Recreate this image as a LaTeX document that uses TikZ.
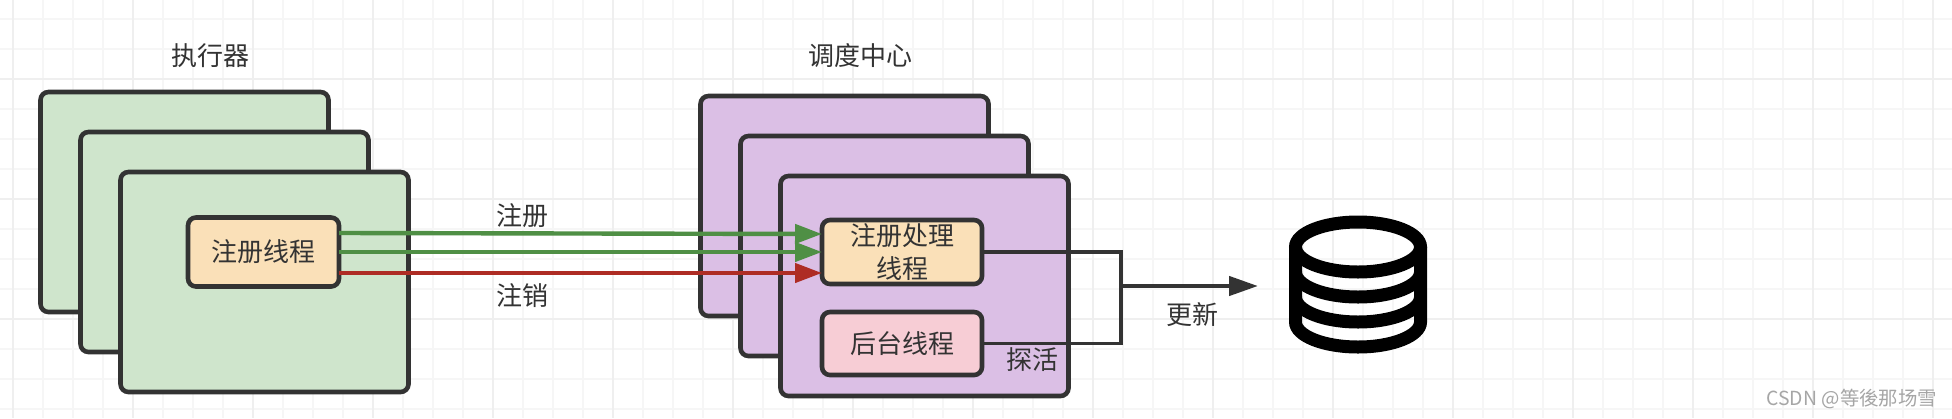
\documentclass[tikz,border=0pt]{standalone}
\usepackage{fontspec}
\setmainfont{Noto Sans CJK SC}
\usepackage{xcolor}
\usetikzlibrary{arrows.meta}
\definecolor{inkgray}{HTML}{333333}
\definecolor{gridmajor}{HTML}{EFEFEF}
\definecolor{gridminor}{HTML}{F6F6F6}
\definecolor{execgreen}{HTML}{CFE5CC}
\definecolor{schedpurple}{HTML}{DBBFE5}
\definecolor{threadorange}{HTML}{FAE0B8}
\definecolor{threadpink}{HTML}{F7CDD5}
\definecolor{reglinegreen}{HTML}{4F8F45}
\definecolor{unreglinered}{HTML}{AE2C24}
\tikzset{
    every node/.style={text=inkgray, font=\fontsize{13pt}{16.5pt}\selectfont, outer sep=0pt, inner sep=0pt},
    panel/.style={draw=inkgray, line width=2.3pt, rounded corners=4pt, minimum height=110pt, anchor=north west},
    threadbox/.style={draw=inkgray, line width=2.3pt, rounded corners=4pt, minimum width=80pt, align=center},
    regline/.style={draw=reglinegreen, line width=2.2pt, -{Triangle[length=13.5pt, width=9.5pt]}},
    unregline/.style={draw=unreglinered, line width=2.2pt, -{Triangle[length=13.5pt, width=9.5pt]}},
    joinline/.style={draw=inkgray, line width=1.8pt},
    dbline/.style={draw=black, line width=6.5pt}
}

\begin{document}
\begin{tikzpicture}[x=0.5pt, y=-0.5pt]
        \useasboundingbox[fill=white] (0, 0) rectangle (1952, 418);

        % Grid
        \foreach \gx in {13, 43, ..., 1933} {
            \draw[gridminor, line width=0.8pt] (\gx, 0) -- (\gx, 418);
        }
        \foreach \gy in {19, 49, ..., 409} {
            \draw[gridminor, line width=0.8pt] (0, \gy) -- (1952, \gy);
        }
        \foreach \gx in {13, 133, ..., 1933} {
            \draw[gridmajor, line width=1pt] (\gx, 0) -- (\gx, 418);
        }
        \foreach \gy in {79, 199, 319} {
            \draw[gridmajor, line width=1pt] (0, \gy) -- (1952, \gy);
        }

        % Nodes
        \node (execlabel) at (210, 56) {执行器};
        \node[panel, fill=execgreen, minimum width=144pt] (exec1) at (40.5, 92) {};
        \node[panel, fill=execgreen, minimum width=144pt] (exec2) at (80.5, 132) {};
        \node[panel, fill=execgreen, minimum width=144pt] (exec3) at (120.5, 172) {};
        \node[threadbox, fill=threadorange, minimum width=75.5pt, minimum height=34.5pt] (regthread) at (263.5, 252) {注册线程};

        \node (schedlabel) at (860, 56) {调度中心};
        \node[panel, fill=schedpurple, minimum width=144pt] (sched1) at (700.5, 96) {};
        \node[panel, fill=schedpurple, minimum width=144pt] (sched2) at (740.5, 136) {};
        \node[panel, fill=schedpurple, minimum width=144pt] (sched3) at (780.5, 176) {};
        \node[threadbox, fill=threadorange, minimum height=32pt] (handler) at (902, 252) {注册处理\\线程};
        \node[threadbox, fill=threadpink, minimum height=31.5pt] (bgthread) at (902, 343.5) {后台线程};

        \coordinate (join) at (1121, 286);
        \coordinate (dbin) at (1258, 286);

        % Edges
        \draw[regline] ([yshift=9.5pt]regthread.east) -- ([yshift=9pt]handler.west);
        \draw[regline] (regthread.east) -- (handler.west);
        \draw[unregline] ([yshift=-10.5pt]regthread.east) -- ([yshift=-10.5pt]handler.west);
        \draw[joinline] (handler.east) -| (join);
        \draw[joinline] (bgthread.east) -| (join);
        \draw[joinline, line width=2.2pt, -{Triangle[length=14.5pt, width=9.5pt]}] (join) -- (dbin);

        % Edge labels
        \node (reglabel) at (522, 216) {注册};
        \node (unreglabel) at (522, 296) {注销};
        \node (probelabel) at (1032, 360) {探活};
        \node (updatelabel) at (1192, 315) {更新};

        % Database
        \draw[dbline] (1358, 247) ellipse [x radius=62.5, y radius=25];
        \draw[dbline] (1295.5, 247) -- (1295.5, 322)
            .. controls (1295.5, 335.8) and (1323.5, 347) .. (1358, 347)
            .. controls (1392.5, 347) and (1420.5, 335.8) .. (1420.5, 322) -- (1420.5, 247);
        \foreach \dby in {272, 297} {
            \draw[dbline] (1295.5, \dby)
                .. controls (1295.5, \dby + 13.8) and (1323.5, \dby + 25) .. (1358, \dby + 25)
                .. controls (1392.5, \dby + 25) and (1420.5, \dby + 13.8) .. (1420.5, \dby);
        }

        % Watermark
        \node[text=gray!70, font=\fontsize{9.7pt}{12pt}\selectfont, anchor=east] (mark) at (1937, 399) {CSDN @等後那场雪};
    \end{tikzpicture}
\end{document}
